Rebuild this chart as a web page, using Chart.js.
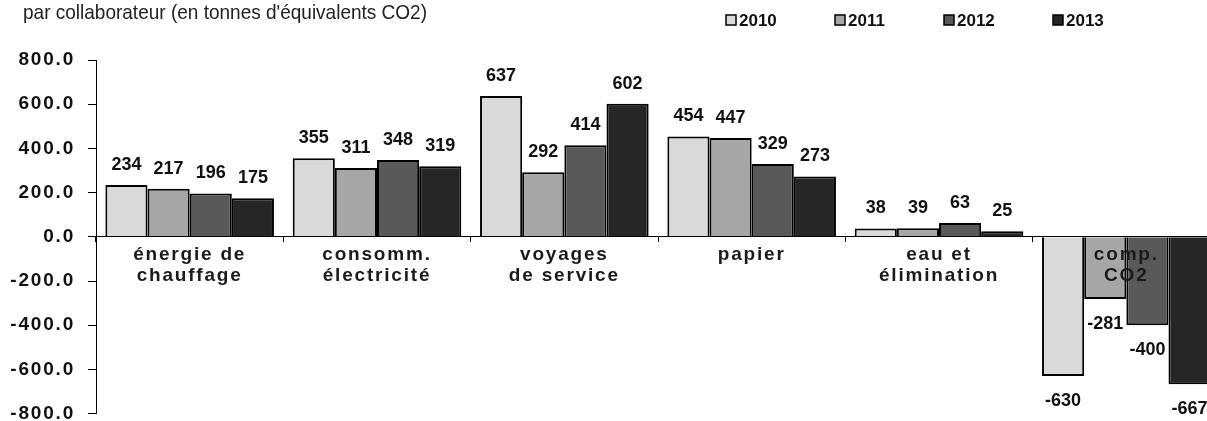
<!DOCTYPE html>
<html><head><meta charset="utf-8">
<script src="https://cdn.jsdelivr.net/npm/chart.js@4.4.0/dist/chart.umd.min.js"></script>
<style>html,body{margin:0;padding:0;background:#fff;overflow:hidden}
#wrap{width:1232px;height:438px;position:relative}</style></head>
<body><div id="wrap"><canvas id="c"></canvas></div>
<script>
const categories = [["énergie de","chauffage"],["consomm.","électricité"],["voyages","de service"],["papier"],["eau et","élimination"],["comp.","CO2"]];
const seriesNames = ["2010","2011","2012","2013"];
const values2010 = [234,355,637,454,38,-630];
const values2011 = [217,311,292,447,39,-281];
const values2012 = [196,348,414,329,63,-400];
const values2013 = [175,319,602,273,25,-667];
const yTicks = [-800,-600,-400,-200,0,200,400,600,800];
const titleText = "par collaborateur (en tonnes d'équivalents CO2)";
const colors = ["#d9d9d9","#a6a6a6","#595959","#262626"];

const FONT = "'Liberation Sans', Arial, sans-serif";
const AXIS_SPACING = '1.8px';
const seriesValues = [values2010, values2011, values2012, values2013];

const decorPlugin = {
  id: 'decor',
  beforeDraw(chart) { chart.ctx.letterSpacing = AXIS_SPACING; },
  beforeDatasetsDraw(chart) { chart.ctx.letterSpacing = '0px'; },
  afterDatasetsDraw(chart) {
    const ctx = chart.ctx;
    ctx.save();
    ctx.letterSpacing = '0px';
    ctx.font = 'bold 18px ' + FONT;
    ctx.fillStyle = '#111';
    ctx.textAlign = 'center';
    ctx.textBaseline = 'alphabetic';
    chart.data.datasets.forEach((ds, i) => {
      const meta = chart.getDatasetMeta(i);
      meta.data.forEach((bar, j) => {
        const v = ds.data[j];
        if (v >= 0) ctx.fillText(String(v), bar.x, bar.y - 15);
        else ctx.fillText(String(v), bar.x, bar.y + 30);
      });
    });
    ctx.restore();
    ctx.letterSpacing = AXIS_SPACING;
  },
  afterDraw(chart) {
    const ctx = chart.ctx;
    ctx.letterSpacing = '0px';
    ctx.save();
    ctx.font = '21px ' + FONT;
    ctx.fillStyle = '#222';
    ctx.textAlign = 'left';
    ctx.textBaseline = 'alphabetic';
    const w = ctx.measureText(titleText).width;
    ctx.translate(23, 19);
    ctx.scale(404 / w, 1);
    ctx.fillText(titleText, 0, 0);
    ctx.restore();
    ctx.save();
    ctx.font = 'bold 17px ' + FONT;
    ctx.textBaseline = 'middle';
    ctx.textAlign = 'left';
    chart.data.datasets.forEach((ds, i) => {
      const x = 726 + i * 109;
      ctx.fillStyle = ds.backgroundColor;
      ctx.fillRect(x, 15, 10, 10);
      ctx.strokeStyle = '#000';
      ctx.lineWidth = 1.5;
      ctx.strokeRect(x, 15, 10, 10);
      ctx.fillStyle = '#111';
      ctx.fillText(ds.label, x + 13, 21);
    });
    ctx.restore();
  }
};

new Chart(document.getElementById('c'), {
  type: 'bar',
  data: {
    labels: categories,
    datasets: seriesNames.map((name, i) => ({
      label: name,
      data: seriesValues[i],
      backgroundColor: colors[i],
      borderColor: '#000',
      borderWidth: 2,
      categoryPercentage: 0.9,
      barPercentage: 1.0
    }))
  },
  options: {
    responsive: true,
    maintainAspectRatio: false,
    animation: false,
    layout: { padding: { top: 60, bottom: 7, left: 0, right: 12 } },
    plugins: { legend: { display: false }, tooltip: { enabled: false }, title: { display: false } },
    scales: {
      x: {
        position: { y: 0 },
        grid: { display: true, drawOnChartArea: false, drawTicks: true, tickLength: 5, color: '#000', z: 1 },
        border: { display: true, color: '#000', width: 1, z: 1 },
        ticks: { z: 1, color: '#1a1a1a', font: { family: FONT, size: 19, weight: 'bold', lineHeight: 1.1 }, padding: 3, maxRotation: 0, autoSkip: false }
      },
      y: {
        min: yTicks[0],
        max: yTicks[yTicks.length - 1],
        afterFit(scale) { scale.width = 96; },
        grid: { display: true, drawOnChartArea: false, drawTicks: true, tickLength: 8, color: '#000' },
        border: { display: true, color: '#000', width: 1 },
        ticks: { stepSize: 200, color: '#111', padding: 13, font: { family: FONT, size: 19, weight: 'bold' }, callback: v => Number(v).toFixed(1) }
      }
    }
  },
  plugins: [decorPlugin]
});
</script>
</body></html>
